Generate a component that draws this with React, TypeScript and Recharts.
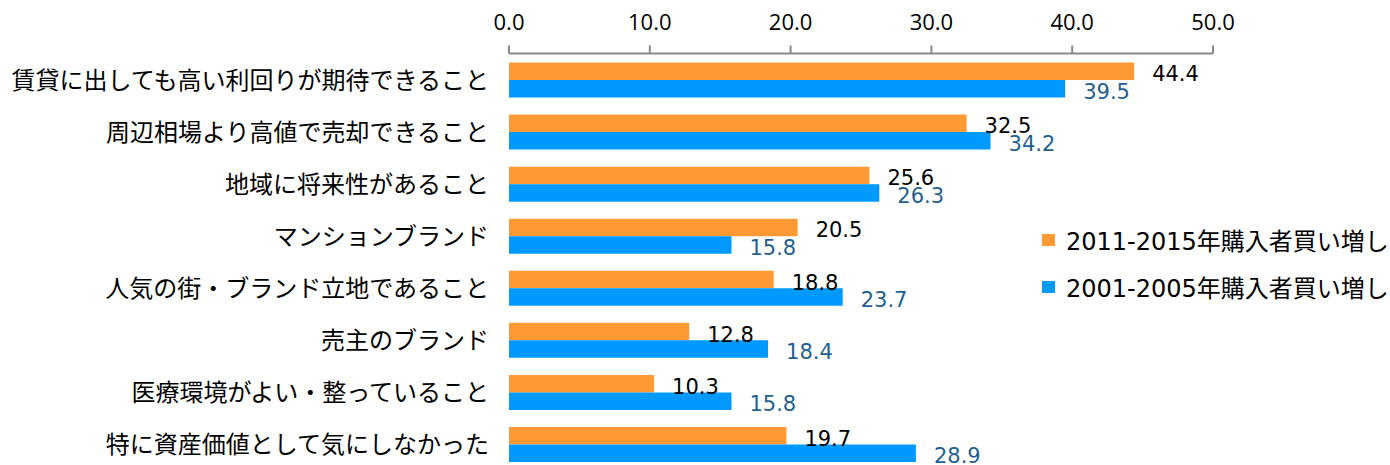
import React from "react";
import { Bar, BarChart, LabelList, XAxis, YAxis } from "recharts";

const categories = [
  "賃貸に出しても高い利回りが期待できること",
  "周辺相場より高値で売却できること",
  "地域に将来性があること",
  "マンションブランド",
  "人気の街・ブランド立地であること",
  "売主のブランド",
  "医療環境がよい・整っていること",
  "特に資産価値として気にしなかった",
];
const buyers2015 = [44.4, 32.5, 25.6, 20.5, 18.8, 12.8, 10.3, 19.7];
const buyers2005 = [39.5, 34.2, 26.3, 15.8, 23.7, 18.4, 15.8, 28.9];
const xTicks = [0, 10, 20, 30, 40, 50];
const seriesNames = ["2011-2015年購入者買い増し", "2001-2005年購入者買い増し"];

const ORANGE = "#FF9933";
const BLUE = "#0099FF";
const BLUE_LABEL = "#1F5F8F";
const JP = "'Noto Sans CJK JP', sans-serif";
const NUM = "'DejaVu Sans', 'Noto Sans CJK JP', sans-serif";

const data = categories.map((name, i) => ({
  name,
  y2015: buyers2015[i],
  y2005: buyers2005[i],
}));

function CategoryTick({ x, y, payload }: any) {
  return (
    <text x={x} y={y} dy={-1} textAnchor="end" dominantBaseline="central" fontSize={24} fontFamily={JP} fill="#000">
      {payload.value}
    </text>
  );
}

function ValueTick({ x, y, payload }: any) {
  return (
    <text x={x} y={y} textAnchor="middle" fontSize={22} fontFamily="'Open Sans', sans-serif" fill="#000">
      {Number(payload.value).toFixed(1)}
    </text>
  );
}

function makeLabel(color: string) {
  return function ValueLabel({ x, y, width, height, value }: any) {
    return (
      <text
        x={x + width + 18}
        y={y + height / 2 + 3}
        dominantBaseline="central"
        fontSize={21}
        fontFamily={NUM}
        fill={color}
      >
        {Number(value).toFixed(1)}
      </text>
    );
  };
}

// legend sits over the plot area, kept outside recharts so it doesn't eat plot width
function SeriesLegend() {
  const colors = [ORANGE, BLUE];
  return (
    <div style={{ position: "absolute", left: 1042, top: 216, fontFamily: NUM, fontSize: 24, color: "#000" }}>
      {seriesNames.map((n, i) => (
        <div key={n} style={{ display: "flex", alignItems: "center", height: 47, whiteSpace: "nowrap" }}>
          <span style={{ display: "inline-block", width: 13, height: 12, background: colors[i], marginRight: 11 }} />
          {n}
        </div>
      ))}
    </div>
  );
}

export default function App() {
  return (
    <div
      style={{
        position: "absolute",
        left: 0,
        top: 0,
        width: 1390,
        height: 465,
        overflow: "hidden",
        background: "#fff",
      }}
    >
      <BarChart
        width={1390}
        height={472}
        data={data}
        layout="vertical"
        margin={{ top: 0, right: 177, bottom: 2, left: 0 }}
        barSize={17.5}
        barGap={0}
      >
        <XAxis
          type="number"
          orientation="top"
          domain={[0, 50]}
          ticks={xTicks}
          height={53.5}
          tickSize={8}
          tickMargin={16}
          stroke="#888"
          strokeWidth={2}
          tick={<ValueTick />}
        />
        <YAxis
          type="category"
          dataKey="name"
          width={509}
          axisLine={false}
          tickLine={false}
          tickSize={0}
          tickMargin={20}
          tick={<CategoryTick />}
          interval={0}
        />
        <Bar dataKey="y2015" name={seriesNames[0]} fill={ORANGE} isAnimationActive={false}>
          <LabelList dataKey="y2015" content={makeLabel("#000")} />
        </Bar>
        <Bar dataKey="y2005" name={seriesNames[1]} fill={BLUE} isAnimationActive={false}>
          <LabelList dataKey="y2005" content={makeLabel(BLUE_LABEL)} />
        </Bar>
      </BarChart>
      <SeriesLegend />
    </div>
  );
}
